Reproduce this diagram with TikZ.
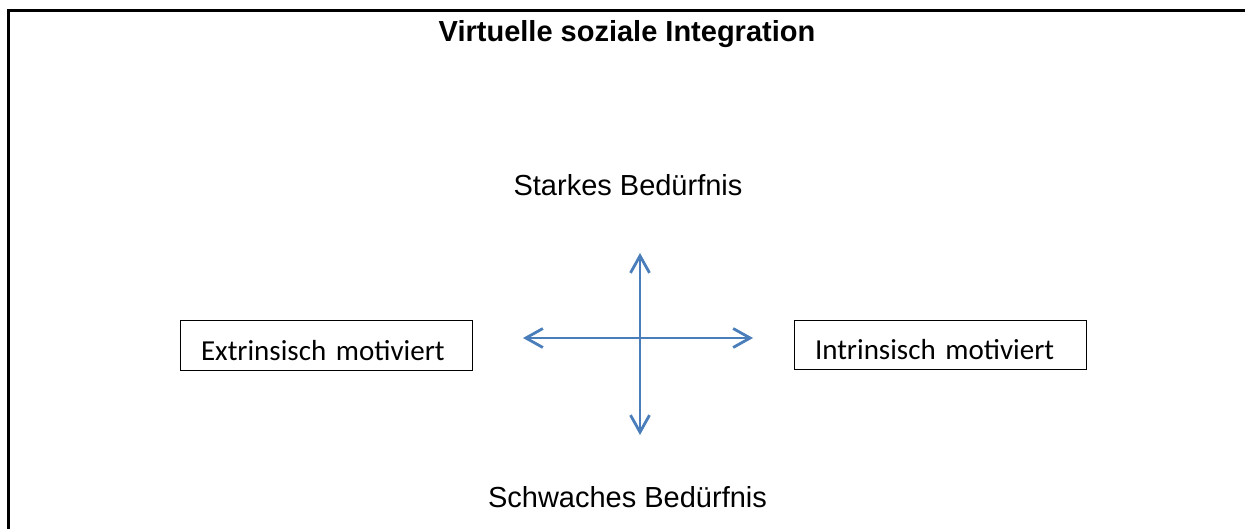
\documentclass[tikz,border=0pt]{standalone}
\usepackage{fontspec}
\setmainfont{Carlito}
\newfontfamily\arialfont{Liberation Sans}
\usetikzlibrary{arrows.meta}
\definecolor{axisblue}{RGB}{74,126,187}

\begin{document}
\begin{tikzpicture}[x=1pt,y=1pt,yscale=-1,xscale=1,
	motivbox/.style={draw,line width=1pt,minimum width=292pt,minimum height=49pt,inner sep=0pt,text width=250pt,align=left,text height=29pt,text depth=0pt,font=\fontsize{29}{34}\selectfont},
	axislabel/.style={anchor=base,inner sep=0pt,font=\arialfont\fontsize{29}{34}\selectfont},
	axisarrow/.style={draw=axisblue,line width=2.8pt,{Straight Barb[length=17pt,width=19pt]}-{Straight Barb[length=17pt,width=19pt]}}]
		\useasboundingbox (0,0) rectangle (1245,529);
		\draw [line width=3pt] (8.5,529) -- (8.5,11) -- (1245,11) ;
		\node (title) [axislabel,font=\arialfont\bfseries\fontsize{29}{34}\selectfont] at (627,42) {Virtuelle soziale Integration};
		\node (strong) [axislabel] at (628,196) {Starkes Bedürfnis};
		\node (weak) [axislabel] at (627.5,507) {Schwaches Bedürfnis};
		\node (extr) [motivbox] at (326,345.5) {Extrinsisch motiviert};
		\node (intr) [motivbox] at (940,345) {Intrinsisch motiviert};
		\coordinate (up) at (640,253);
		\coordinate (down) at (640,435);
		\coordinate (left) at (523,338);
		\coordinate (right) at (753,338);
		\draw [axisarrow] (down) -- (up) ;
		\draw [axisarrow] (left) -- (right) ;
\end{tikzpicture}
\end{document}
